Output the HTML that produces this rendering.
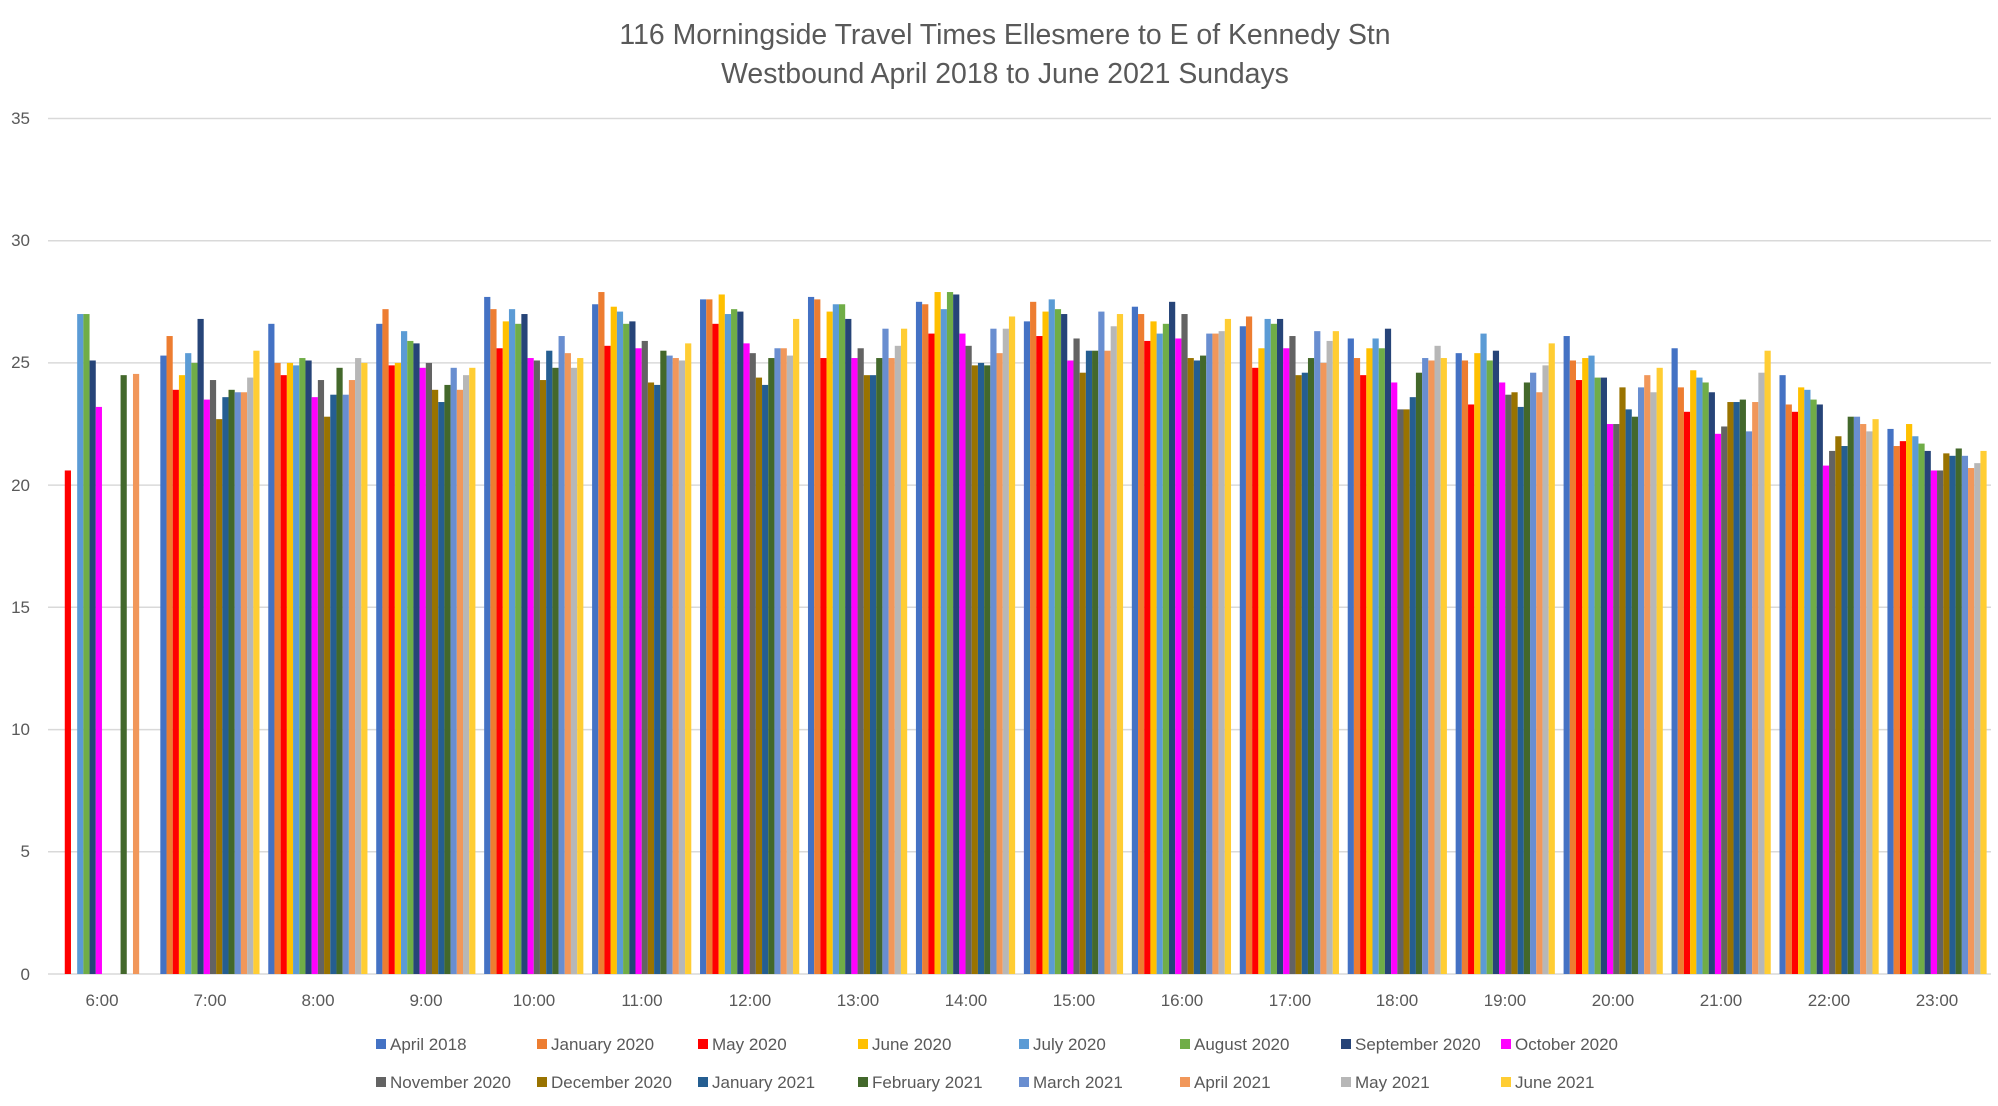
<!DOCTYPE html>
<html><head><meta charset="utf-8"><style>
html,body{margin:0;padding:0;background:#fff;}
svg{display:block;font-family:"Liberation Sans",sans-serif;}
</style></head><body>
<svg id="c" width="1998" height="1106" viewBox="0 0 1998 1106" xmlns="http://www.w3.org/2000/svg">
<rect width="1998" height="1106" fill="#fff"/>
<text x="1005" y="44" font-size="28.4" fill="#595959" text-anchor="middle">116 Morningside Travel Times Ellesmere to E of Kennedy Stn</text>
<text x="1005" y="83" font-size="28.4" fill="#595959" text-anchor="middle">Westbound April 2018 to June 2021 Sundays</text>
<g stroke="#d9d9d9" stroke-width="1.5">
<line x1="48" x2="1991" y1="118.5" y2="118.5"/><line x1="48" x2="1991" y1="240.7" y2="240.7"/>
<line x1="48" x2="1991" y1="362.9" y2="362.9"/><line x1="48" x2="1991" y1="485.1" y2="485.1"/>
<line x1="48" x2="1991" y1="607.3" y2="607.3"/><line x1="48" x2="1991" y1="729.6" y2="729.6"/>
<line x1="48" x2="1991" y1="851.8" y2="851.8"/><line x1="48" x2="1991" y1="974" y2="974"/>
</g>
<g font-size="17" fill="#595959" text-anchor="end">
<text x="30" y="124">35</text><text x="30" y="246">30</text><text x="30" y="368">25</text><text x="30" y="491">20</text>
<text x="30" y="613">15</text><text x="30" y="735">10</text><text x="30" y="857">5</text><text x="30" y="980">0</text>
</g>
<g id="bars"></g>
<g font-size="17" fill="#595959" text-anchor="middle">
<text x="102" y="1006">6:00</text><text x="210" y="1006">7:00</text><text x="318" y="1006">8:00</text><text x="426" y="1006">9:00</text>
<text x="534" y="1006">10:00</text><text x="642" y="1006">11:00</text><text x="750" y="1006">12:00</text><text x="858" y="1006">13:00</text>
<text x="966" y="1006">14:00</text><text x="1074" y="1006">15:00</text><text x="1182" y="1006">16:00</text><text x="1290" y="1006">17:00</text>
<text x="1397" y="1006">18:00</text><text x="1505" y="1006">19:00</text><text x="1613" y="1006">20:00</text><text x="1721" y="1006">21:00</text>
<text x="1829" y="1006">22:00</text><text x="1937" y="1006">23:00</text>
</g>
<g font-size="17" fill="#595959">
<rect x="376" y="1039" width="10" height="10" fill="#4472C4"/><text x="390" y="1050">April 2018</text>
<rect x="537" y="1039" width="10" height="10" fill="#ED7D31"/><text x="551" y="1050">January 2020</text>
<rect x="698" y="1039" width="10" height="10" fill="#FF0000"/><text x="712" y="1050">May 2020</text>
<rect x="858" y="1039" width="10" height="10" fill="#FFC000"/><text x="872" y="1050">June 2020</text>
<rect x="1019" y="1039" width="10" height="10" fill="#5B9BD5"/><text x="1033" y="1050">July 2020</text>
<rect x="1180" y="1039" width="10" height="10" fill="#70AD47"/><text x="1194" y="1050">August 2020</text>
<rect x="1341" y="1039" width="10" height="10" fill="#264478"/><text x="1355" y="1050">September 2020</text>
<rect x="1501" y="1039" width="10" height="10" fill="#FF00FF"/><text x="1515" y="1050">October 2020</text>
<rect x="376" y="1077" width="10" height="10" fill="#636363"/><text x="390" y="1088">November 2020</text>
<rect x="537" y="1077" width="10" height="10" fill="#997300"/><text x="551" y="1088">December 2020</text>
<rect x="698" y="1077" width="10" height="10" fill="#255E91"/><text x="712" y="1088">January 2021</text>
<rect x="858" y="1077" width="10" height="10" fill="#43682B"/><text x="872" y="1088">February 2021</text>
<rect x="1019" y="1077" width="10" height="10" fill="#698ED0"/><text x="1033" y="1088">March 2021</text>
<rect x="1180" y="1077" width="10" height="10" fill="#F1975A"/><text x="1194" y="1088">April 2021</text>
<rect x="1341" y="1077" width="10" height="10" fill="#B7B7B7"/><text x="1355" y="1088">May 2021</text>
<rect x="1501" y="1077" width="10" height="10" fill="#FFCD33"/><text x="1515" y="1088">June 2021</text>
</g>
</svg>
<script>
var C=["#4472C4","#ED7D31","#FF0000","#FFC000","#5B9BD5","#70AD47","#264478","#FF00FF","#636363","#997300","#255E91","#43682B","#698ED0","#F1975A","#B7B7B7","#FFCD33"];
var D=[
[0,0,20.6,0,27.0,27.0,25.1,23.2,0,0,0,24.5,0,24.55,0,0],
[25.3,26.1,23.9,24.5,25.4,25.0,26.8,23.5,24.3,22.7,23.6,23.9,23.8,23.8,24.4,25.5],
[26.6,25.0,24.5,25.0,24.9,25.2,25.1,23.6,24.3,22.8,23.7,24.8,23.7,24.3,25.2,25.0],
[26.6,27.2,24.9,25.0,26.3,25.9,25.8,24.8,25.0,23.9,23.4,24.1,24.8,23.9,24.5,24.8],
[27.7,27.2,25.6,26.7,27.2,26.6,27.0,25.2,25.1,24.3,25.5,24.8,26.1,25.4,24.8,25.2],
[27.4,27.9,25.7,27.3,27.1,26.6,26.7,25.6,25.9,24.2,24.1,25.5,25.3,25.2,25.1,25.8],
[27.6,27.6,26.6,27.8,27.0,27.2,27.1,25.8,25.4,24.4,24.1,25.2,25.6,25.6,25.3,26.8],
[27.7,27.6,25.2,27.1,27.4,27.4,26.8,25.2,25.6,24.5,24.5,25.2,26.4,25.2,25.7,26.4],
[27.5,27.4,26.2,27.9,27.2,27.9,27.8,26.2,25.7,24.9,25.0,24.9,26.4,25.4,26.4,26.9],
[26.7,27.5,26.1,27.1,27.6,27.2,27.0,25.1,26.0,24.6,25.5,25.5,27.1,25.5,26.5,27.0],
[27.3,27.0,25.9,26.7,26.2,26.6,27.5,26.0,27.0,25.2,25.1,25.3,26.2,26.2,26.3,26.8],
[26.5,26.9,24.8,25.6,26.8,26.6,26.8,25.6,26.1,24.5,24.6,25.2,26.3,25.0,25.9,26.3],
[26.0,25.2,24.5,25.6,26.0,25.6,26.4,24.2,23.1,23.1,23.6,24.6,25.2,25.1,25.7,25.2],
[25.4,25.1,23.3,25.4,26.2,25.1,25.5,24.2,23.7,23.8,23.2,24.2,24.6,23.8,24.9,25.8],
[26.1,25.1,24.3,25.2,25.3,24.4,24.4,22.5,22.5,24.0,23.1,22.8,24.0,24.5,23.8,24.8],
[25.6,24.0,23.0,24.7,24.4,24.2,23.8,22.1,22.4,23.4,23.4,23.5,22.2,23.4,24.6,25.5],
[24.5,23.3,23.0,24.0,23.9,23.5,23.3,20.8,21.4,22.0,21.6,22.8,22.8,22.5,22.2,22.7],
[22.3,21.6,21.8,22.5,22.0,21.7,21.4,20.6,20.6,21.3,21.2,21.5,21.2,20.7,20.9,21.4]];
var g=document.getElementById("bars"),cw=1943/18,w=6.2,gap=cw-16*w,s="";
for(var i=0;i<18;i++)for(var j=0;j<16;j++){var v=D[i][j];if(!v)continue;var h=v*24.443;
s+='<rect x="'+(48+i*cw+gap/2+j*w).toFixed(2)+'" y="'+(974-h).toFixed(2)+'" width="'+w+'" height="'+h.toFixed(2)+'" fill="'+C[j]+'"/>';}
g.innerHTML=s;
</script>
</body></html>
